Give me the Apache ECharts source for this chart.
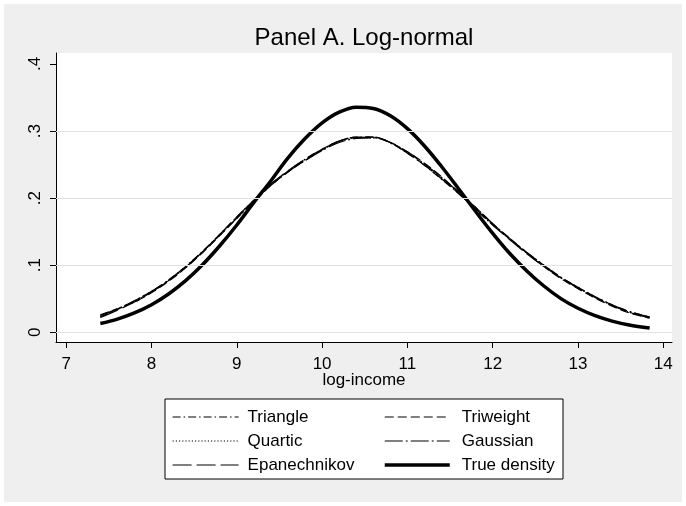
<!DOCTYPE html>
<html>
<head>
<meta charset="utf-8">
<script src="https://cdn.jsdelivr.net/npm/echarts@6/dist/echarts.min.js"></script>
<style>
html,body{margin:0;padding:0;background:#ffffff;}
#chart{width:686px;height:506px;}
</style>
</head>
<body>
<div id="chart"></div>
<script>
// ---- data ----
const xGrid = [7.4,7.6,7.8,8.0,8.2,8.4,8.6,8.8,9.0,9.2,9.4,9.6,9.8,10.0,10.2,10.4,10.6,10.8,11.0,11.2,11.4,11.6,11.8,12.0,12.2,12.4,12.6,12.8,13.0,13.2,13.4,13.6,13.84];
const triangle     = [0.023,0.034,0.047,0.061,0.078,0.098,0.121,0.146,0.172,0.197,0.221,0.240,0.258,0.273,0.285,0.291,0.291,0.282,0.267,0.249,0.228,0.207,0.183,0.160,0.139,0.119,0.100,0.082,0.067,0.053,0.041,0.031,0.023];
const triweight    = [0.026,0.035,0.045,0.059,0.076,0.096,0.119,0.144,0.170,0.195,0.219,0.239,0.256,0.272,0.285,0.291,0.291,0.283,0.269,0.252,0.232,0.209,0.186,0.162,0.140,0.118,0.098,0.080,0.065,0.051,0.039,0.029,0.021];
const quartic      = [0.024,0.034,0.046,0.060,0.077,0.097,0.120,0.145,0.171,0.196,0.220,0.240,0.257,0.272,0.284,0.290,0.290,0.283,0.268,0.250,0.230,0.208,0.185,0.161,0.139,0.118,0.099,0.081,0.066,0.052,0.040,0.030,0.022];
const gaussian     = [0.025,0.035,0.047,0.061,0.078,0.098,0.120,0.145,0.170,0.195,0.219,0.239,0.256,0.271,0.283,0.289,0.290,0.283,0.269,0.251,0.231,0.209,0.186,0.162,0.140,0.119,0.100,0.082,0.067,0.053,0.041,0.031,0.023];
const epanechnikov = [0.022,0.033,0.045,0.060,0.077,0.097,0.120,0.146,0.172,0.197,0.221,0.241,0.258,0.273,0.285,0.290,0.291,0.283,0.267,0.249,0.229,0.207,0.184,0.160,0.138,0.117,0.098,0.081,0.066,0.052,0.040,0.030,0.021];
const trueDensity  = [0.013,0.0196,0.0288,0.0411,0.0571,0.077,0.101,0.129,0.160,0.1936,0.226,0.2599,0.2888,0.3122,0.3282,0.3356,0.3337,0.3228,0.3036,0.2778,0.2472,0.214,0.1801,0.1475,0.1174,0.0915,0.069,0.0502,0.0358,0.0248,0.0167,0.0109,0.0064];

const xTicks = [7,8,9,10,11,12,13,14];
const xTickLabels = ['7','8','9','10','11','12','13','14'];
const yTicks = [0,0.1,0.2,0.3,0.4];
const yTickLabels = ['0','.1','.2','.3','.4'];
const gridValues = [0,0.1,0.2,0.3];

const titleText = 'Panel A. Log-normal';
const xTitle = 'log-income';

// ---- build ----
const FONT = "'Liberation Sans', Arial, Helvetica, sans-serif";
function pairs(ys){ return xGrid.map((x,i)=>[x, ys[i]]); }
function lookup(ticks, labels, v){
  for (let i=0;i<ticks.length;i++){ if (Math.abs(ticks[i]-v) < 1e-6) return labels[i]; }
  return '';
}

const styles = {
  'Triangle':     {width:1.2, type:[8,3,1.5,3]},
  'Triweight':    {width:1.2, type:[9,4]},
  'Quartic':      {width:1.2, type:[1.2,2]},
  'Gaussian':     {width:1.2, type:[18,3,2,3]},
  'Epanechnikov': {width:1.2, type:[19,5]},
  'True density': {width:3.5, type:'solid'}
};
const values = {
  'Triangle':triangle, 'Triweight':triweight, 'Quartic':quartic,
  'Gaussian':gaussian, 'Epanechnikov':epanechnikov, 'True density':trueDensity
};

function mkSeries(name){
  const st = styles[name];
  return {
    name, type:'line', data: pairs(values[name]), showSymbol:false, symbol:'none',
    smooth:0.35, z: name==='True density'?4:3, silent:true,
    itemStyle:{color:'#000'},
    lineStyle:{color:'#000', width:st.width, type:st.type}
  };
}
function legendItem(name){
  const st = styles[name];
  return {name, itemStyle:{opacity:0, color:'rgba(0,0,0,0)', borderWidth:0},
          lineStyle:{color:'#000', width:st.width, type:st.type, opacity:1}};
}

const chart = echarts.init(document.getElementById('chart'), null, {renderer:'canvas'});
chart.setOption({
  animation:false,
  backgroundColor:'#ffffff',
  textStyle:{fontFamily:FONT, color:'#000'},
  graphic:[
    {type:'rect', z:-10, shape:{x:4,y:4,width:678,height:498}, style:{fill:'#efefef'}},
    {type:'rect', z:-9, shape:{x:56,y:53,width:616,height:289}, style:{fill:'#ffffff'}},
    {type:'rect', z:-5, shape:{x:165,y:399,width:398,height:80}, style:{fill:'#ffffff', stroke:'#000', lineWidth:1}},
    {type:'text', x:364, y:38, style:{text:titleText, font:'24px '+FONT, fill:'#000', textAlign:'center', textVerticalAlign:'middle'}}
  ],
  grid:{left:56, top:53, right:14, bottom:164, containLabel:false},
  xAxis:{
    type:'value', min:6.880, max:14.102,
    name:xTitle, nameLocation:'middle', nameGap:30, nameMoveOverlap:false,
    nameTextStyle:{fontSize:17, color:'#000', fontFamily:FONT},
    axisLine:{show:true, onZero:false, lineStyle:{color:'#000', width:1}},
    axisTick:{show:true, length:6, customValues:xTicks, lineStyle:{color:'#000'}},
    axisLabel:{customValues:xTicks, fontSize:17, color:'#000', margin:14, fontFamily:FONT,
      formatter:v=>lookup(xTicks,xTickLabels,v)},
    splitLine:{show:false}
  },
  yAxis:{
    type:'value', min:-0.0145, max:0.4164,
    axisLine:{show:true, onZero:false, lineStyle:{color:'#000', width:1}},
    axisTick:{show:true, length:6, customValues:yTicks, lineStyle:{color:'#000'}},
    axisLabel:{customValues:yTicks, fontSize:17, color:'#000', margin:12, rotate:90, fontFamily:FONT,
      formatter:v=>lookup(yTicks,yTickLabels,v)},
    splitLine:{show:false}
  },
  legend:[
    {data:['Triangle','Quartic','Epanechnikov'].map(legendItem), orient:'vertical', left:172, top:408.5,
     padding:0, itemWidth:66, itemHeight:14, itemGap:7, selectedMode:false,
     textStyle:{fontSize:17, color:'#000', fontFamily:FONT, padding:[0,0,0,4]}},
    {data:['Triweight','Gaussian','True density'].map(legendItem), orient:'vertical', left:383, top:408.5,
     padding:0, itemWidth:65, itemHeight:14, itemGap:7, selectedMode:false,
     textStyle:{fontSize:17, color:'#000', fontFamily:FONT, padding:[0,0,0,7]}}
  ],
  series:[
    {name:'gridlines', type:'line', data:[], z:1, silent:true, symbol:'none',
     markLine:{silent:true, symbol:['none','none'], label:{show:false},
       lineStyle:{color:'#e2e2e2', type:'solid', width:1},
       data:gridValues.map(v=>({yAxis:v}))}},
    mkSeries('Triangle'),
    mkSeries('Triweight'),
    mkSeries('Quartic'),
    mkSeries('Gaussian'),
    mkSeries('Epanechnikov'),
    mkSeries('True density')
  ]
});
</script>
</body>
</html>
